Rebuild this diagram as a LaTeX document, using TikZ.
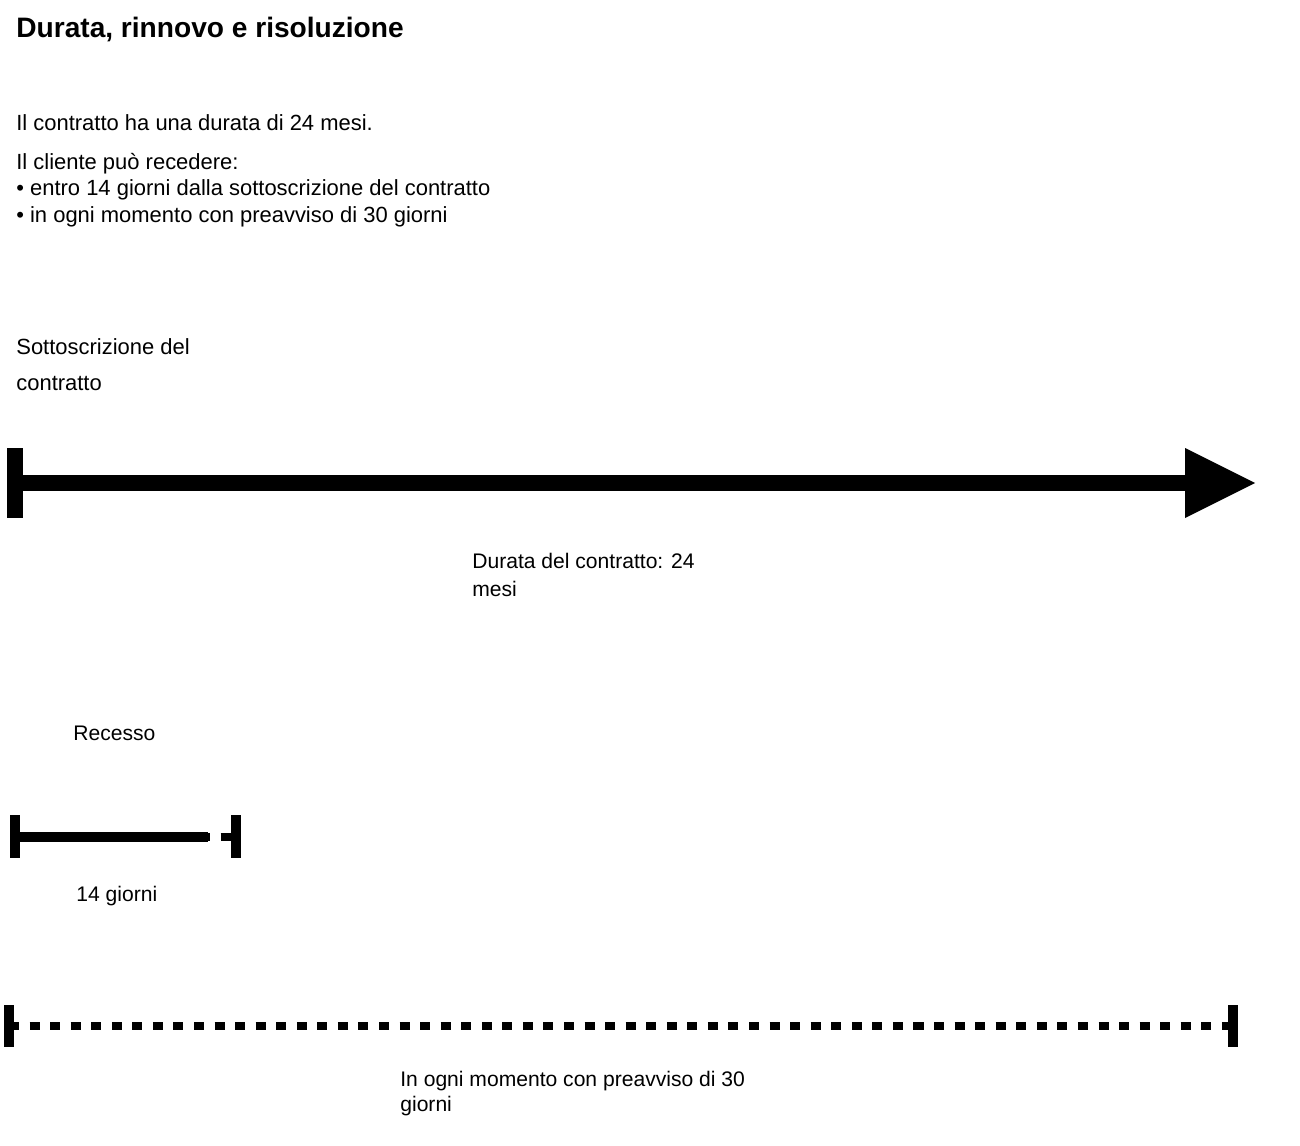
\documentclass[tikz,border=0pt]{standalone}
\usepackage{fontspec}
\setmainfont{Liberation Sans}
\usetikzlibrary{positioning}

\begin{document}
\begin{tikzpicture}
[x=0.02cm,y=-0.02cm,font=\fontsize{12.5}{16}\selectfont]
\tikzstyle{txt}=[anchor=north west, inner sep=0pt, align=left]
\tikzstyle{bar}=[line width=9pt]
\tikzstyle{tick}=[line width=5.4pt]
\tikzstyle{dots}=[line width=5pt, dash pattern=on 5.7pt off 6pt]

\useasboundingbox (0,0) rectangle (1300,1145);

% testo
\node[txt, font=\fontsize{16}{20}\selectfont\bfseries] (title) at (16,17) {Durata, rinnovo e risoluzione};
\node[txt] (durata) at (16,114) {Il contratto ha una durata di 24 mesi.};
\node[txt, text depth=0pt] (recedere) at (16,153) {Il cliente può recedere:\\[-1pt]
  • entro 14 giorni dalla sottoscrizione del contratto\\[-1pt]
  • in ogni momento con preavviso di 30 giorni};
\node[txt, font=\fontsize{12.5}{20.5}\selectfont] (sottoscr) at (16,338) {Sottoscrizione del\\contratto};

% durata del contratto
\coordinate (start) at (15,483);
\coordinate (end) at (1186,483);
\coordinate (tip) at (1255,483);
\draw[bar] (start) -- (end);
\draw[bar] (15,448) -- (15,518);
\fill (1185,448) -- (tip) -- (1185,518) -- cycle;
\node[txt, font=\fontsize{12}{16}\selectfont] (lbl_durata) at (472,553) {Durata del contratto: 24\\mesi};

% recesso
\node[txt, font=\fontsize{12}{16}\selectfont] (recesso) at (73,726) {Recesso};
\coordinate (r_a) at (15,837);
\coordinate (r_b) at (236,837);
\draw[dots] (r_a) -- (r_b);
\draw[tick] (15,815) -- (15,858);
\draw[tick] (236,815) -- (236,858);
\draw[tick] (15,837) -- ([xshift=-16pt]r_b) ;
\node[txt, font=\fontsize{12}{16}\selectfont] (giorni14) at (76,886) {14 giorni};

% preavviso
\coordinate (p_a) at (9,1026);
\coordinate (p_b) at (1233,1026);
\draw[dots] (p_a) -- (p_b);
\draw[tick] (9,1005) -- (9,1047);
\draw[tick] (1233,1005) -- (1233,1047);
\node[txt, font=\fontsize{12}{14}\selectfont] (lbl_preavviso) at (400,1071) {In ogni momento con preavviso di 30\\giorni};
\end{tikzpicture}
\end{document}
